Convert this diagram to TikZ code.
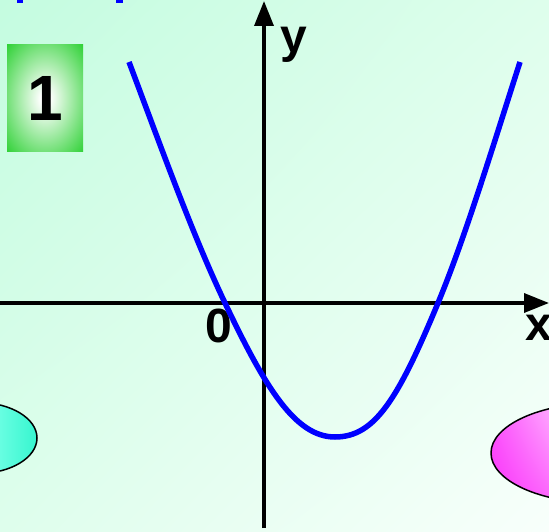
\documentclass[tikz,border=0pt]{standalone}
\usepackage{fontspec}
\setmainfont{Liberation Sans}
\usepackage{tikz}
\usetikzlibrary{arrows.meta,positioning,shadings}
\definecolor{mintdark}{RGB}{196,252,224}
\definecolor{mintmid}{RGB}{222,254,236}
\definecolor{mintlight}{RGB}{248,255,251}
\definecolor{boxgreen}{RGB}{6,200,14}
\definecolor{aqualeft}{RGB}{110,255,228}
\definecolor{aquaright}{RGB}{50,245,205}
\definecolor{pinkdark}{RGB}{250,45,250}
\definecolor{pinklight}{RGB}{255,175,255}
\pgfdeclareradialshading{numglow}{\pgfpoint{0bp}{0bp}}{%
  color(0bp)=(white); color(3bp)=(white); color(42bp)=(boxgreen); color(50bp)=(boxgreen)}
\tikzset{
  axisarr/.style={-{Triangle[length=25pt,width=19pt]}, line width=3.5pt, black},
  curveline/.style={line width=5.5pt, blue},
  numbox/.style={shading=numglow, inner sep=0pt, outer sep=0pt,
                 minimum width=76pt, minimum height=107pt,
                 font=\fontsize{64}{64}\selectfont\bfseries},
  axlabel/.style={font=\fontsize{48}{48}\selectfont\bfseries, inner sep=0pt, anchor=base},
  blobline/.style={draw=black, line width=1.5pt}
}

\begin{document}
\begin{tikzpicture}[x=1pt, y=-1pt]
    \useasboundingbox (0,0) rectangle (549,532);
    \clip (0,0) rectangle (549,532);
    % background
    \shade[upper left=mintdark, upper right=mintmid, lower left=mintmid,
           lower right=mintlight] (0,0) rectangle (549,532);
    \fill[blue] (17,0) rectangle (23,3);
    \fill[blue] (116,0) rectangle (123,3);

    % side ellipses
    \begin{scope}
      \clip (-21.6,438) ellipse [x radius=58.6, y radius=35.5];
      \shade[left color=aqualeft, right color=aquaright] (-5,400) rectangle (40,476);
    \end{scope}
    \draw[blobline] (-21.6,438) ellipse [x radius=58.6, y radius=35.5];
    \begin{scope}
      \clip (600,453) ellipse [x radius=109, y radius=50];
      \shade[lower left=pinkdark, upper left=pinkdark!70!pinklight,
             lower right=pinkdark!60!pinklight, upper right=pinklight]
             (488,400) rectangle (552,506);
    \end{scope}
    \draw[blobline] (600,453) ellipse [x radius=109, y radius=50];

    % number box
    \node[numbox] (num) at (45,98.5) {1};

    % axes
    \coordinate (xL) at (0,303);
    \coordinate (xR) at (549,303);
    \coordinate (yB) at (264,528);
    \coordinate (yT) at (264,1);
    \draw[axisarr] (xL) -- (xR);
    \draw[axisarr] (yB) -- (yT);
    \node[axlabel] (ylab) at (294,53) {y};
    \node[axlabel] (xlab) at (539,340) {x};
    \node[axlabel] (zero) at (219,342) {0};

    % parabola
    \coordinate (pL) at (129,62);
    \coordinate (rL) at (225,303);
    \coordinate (vx) at (335,437);
    \coordinate (rR) at (438,303);
    \coordinate (pR) at (520,62);
    \draw[curveline] (pL) .. controls (161,147) and (193,236) .. (rL)
      .. controls (265,387) and (295,437) .. (vx)
      .. controls (375,437) and (398,399) .. (rR)
      .. controls (465,238) and (493,146) .. (pR);
\end{tikzpicture}
\end{document}
